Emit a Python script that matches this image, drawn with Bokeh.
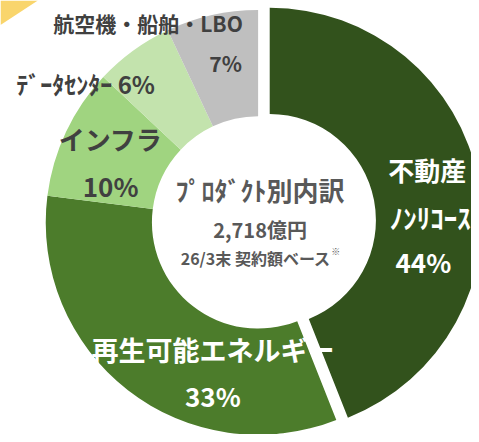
import math
from bokeh.plotting import figure
from bokeh.models import Range1d, ColumnDataSource
from bokeh.embed import file_html
from bokeh.resources import INLINE
from bokeh.core.properties import value

# ---- data ----
categories = ["不動産ノンリコース", "再生可能エネルギー", "インフラ", "データセンター", "航空機・船舶・LBO"]
shares = [44, 33, 10, 6, 7]
colors = ["#32521C", "#4C7C2B", "#A0D480", "#C3E3AD", "#BFBFBF"]
explode = [12, 0, 0, 0, 0]

title_text = "ﾌﾟﾛﾀﾞｸﾄ別内訳"
total_text = "2,718億円"
basis_text = "26/3末 契約額ベース"
note_mark = "※"

FONT = "Noto Sans CJK JP"
DARK = "#404040"
MID = "#595959"

W, H = 471, 434
p = figure(width=W, height=H, output_backend="svg", toolbar_location=None,
           x_range=Range1d(0, 479), y_range=Range1d(-442, 0), min_border=0)
p.axis.visible = False
p.grid.visible = False
p.outline_line_color = None
p.background_fill_color = "white"
p.border_fill_color = "white"

# decorative corner
p.patch(x=[0, 38, 0], y=[0, 0, -25], fill_color="#F9D56C", line_color=None)

# ---- donut ----
cx, cy = 262, -226
R_OUT, R_IN = 216, 108
total = sum(shares)
starts, ends, xs, ys = [], [], [], []
c = 0
for s, e in zip(shares, explode):
    a0 = math.pi / 2 - 2 * math.pi * c / total
    c += s
    a1 = math.pi / 2 - 2 * math.pi * c / total
    mid = (a0 + a1) / 2
    starts.append(a0)
    ends.append(a1)
    xs.append(cx + e * math.cos(mid))
    ys.append(cy + e * math.sin(mid))

src = ColumnDataSource(dict(x=xs, y=ys, start=starts, end=ends, color=colors, cat=categories))
p.annular_wedge(x="x", y="y", inner_radius=R_IN, outer_radius=R_OUT,
                start_angle="start", end_angle="end", direction="clock",
                fill_color="color", line_color=None, source=src)


def T(x, y, s, size, color, align="center", style="bold"):
    p.text(x=[x], y=[-y], text=[s], text_font=value(FONT),
           text_font_size=f"{size}px", text_color=color, text_align=align,
           text_baseline="middle", text_font_style=style)


pct = [f"{s}%" for s in shares]

# 不動産ノンリコース
T(434, 172, "不動産", 26, "white")
T(437, 221, "ﾉﾝﾘｺｰｽ", 27, "white")
T(430, 266, pct[0], 26, "white")
# 再生可能エネルギー
T(216, 355, categories[1], 27, "white")
T(216, 402, pct[1], 26, "white")
# インフラ
T(112, 141, categories[2], 26, DARK)
T(112, 188, pct[2], 26, DARK)
# データセンター
T(16, 85, "ﾃﾞｰﾀｾﾝﾀｰ " + pct[3], 24, DARK, align="left")
# 航空機・船舶・LBO
T(150, 23, categories[4], 21, DARK)
T(229, 64, pct[4], 21, DARK)

# center texts
T(264, 192, title_text, 26, MID)
T(264, 233, total_text, 20, MID)
T(336, 262, basis_text, 16, MID, align="right")
T(341, 256, note_mark, 9, MID, align="center")

open("out.html", "w").write(file_html(p, INLINE))
